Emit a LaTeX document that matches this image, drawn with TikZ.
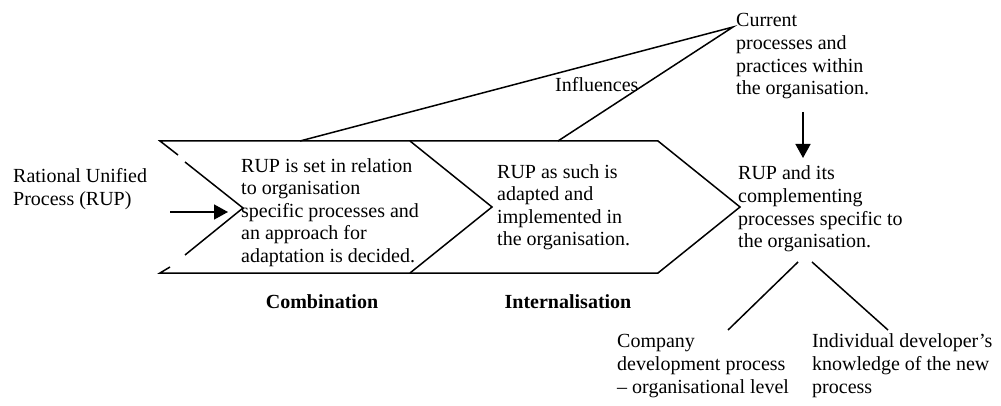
\documentclass[tikz,border=0pt]{standalone}
\usepackage{fontspec}
\setmainfont{Liberation Serif}
\usetikzlibrary{positioning,arrows.meta}

\begin{document}
\begin{tikzpicture}[x=1pt,y=-1pt,
    txt/.style={align=left, inner sep=0pt, anchor=base west,
        font=\fontsize{20}{22.6}\selectfont},
    phase/.style={inner sep=0pt, anchor=base,
        font=\fontsize{20}{22.6}\selectfont\bfseries},
    ln/.style={line width=1.5pt},
    arr/.style={line width=1.5pt, -{Triangle[length=14pt,width=15pt]}}]
    \useasboundingbox (0,0) rectangle (1001,406);

    % chevrons
    \draw[ln] (178,155) -- (160,141) -- (658,141) -- (740,207) -- (658,273) -- (160,273) -- (170,267);
    \draw[ln] (185,162) -- (243,208) -- (185,255);
    \draw[ln] (410,141) -- (492,207) -- (410,273);

    % texts (base = last line)
    \node[txt] (rup) at (13,205.6) {Rational Unified\\Process (RUP)};
    \node[txt] (combine) at (241,262.4) {RUP is set in relation\\to organisation\\specific processes and\\an approach for\\adaptation is decided.};
    \node[txt] (adapt) at (497,245.8) {RUP as such is\\adapted and\\implemented in\\the organisation.};
    \node[txt] (current) at (736,94.8) {Current\\processes and\\practices within\\the organisation.};
    \node[txt] (result) at (738,247.8) {RUP and its\\complementing\\processes specific to\\the organisation.};
    \node[txt] (company) at (617,393) {Company\\development process\\– organisational level};
    \node[txt] (individual) at (812,393) {Individual developer’s\\knowledge of the new\\process};
    \node[txt] (influences) at (555,92) {Influences};
    \node[phase] (combination) at (322,308) {Combination};
    \node[phase] (internalisation) at (568,308) {Internalisation};

    % connectors
    \coordinate (source) at (733,27);
    \draw[ln] (300,141) -- (source) -- (558,141);
    \coordinate (start) at (170,212);
    \coordinate (enter) at (228,212);
    \draw[arr] (start) -- (enter);
    \coordinate (down) at (803,112);
    \coordinate (into) at (803,158);
    \draw[arr] (down) -- (into);
    \draw[ln] (798,262) -- (728,330);
    \draw[ln] (812,262) -- (888,330);
\end{tikzpicture}
\end{document}
